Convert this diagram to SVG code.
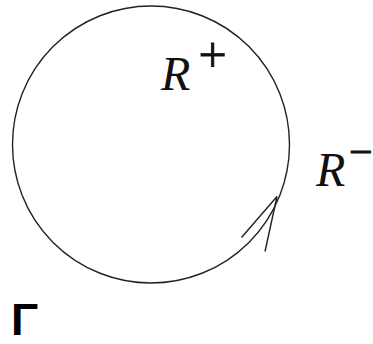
<svg xmlns="http://www.w3.org/2000/svg" width="373" height="344" viewBox="0 0 373 344">
<style>
.line{fill:none;stroke:#222;stroke-width:1.4}
.sign{stroke:#111;stroke-width:0.8}
</style>
<rect width="373" height="344" fill="#fff"/>
<g id="circle">
<circle class="line" cx="151" cy="144.5" r="138.5"/>
</g>
<g id="connectors">
<path class="line" d="M241.5 237.5 L277 196.5 L265 251.5"/>
</g>
<g id="label-rplus" font-family="Liberation Serif, DejaVu Serif, serif" fill="#111">
<text x="161" y="90" font-size="48" font-style="italic">R</text>
<text class="sign" x="198.5" y="72" font-size="50">+</text>
</g>
<g id="label-rminus" font-family="Liberation Serif, DejaVu Serif, serif" fill="#111">
<text x="316" y="186" font-size="48" font-style="italic">R</text>
<text class="sign" x="349" y="165.5" font-size="42">−</text>
</g>
<g id="label-gamma">
<text x="11" y="334.5" font-family="Liberation Sans, DejaVu Sans, sans-serif" font-size="45" font-weight="bold" fill="#000">Γ</text>
</g>
</svg>
